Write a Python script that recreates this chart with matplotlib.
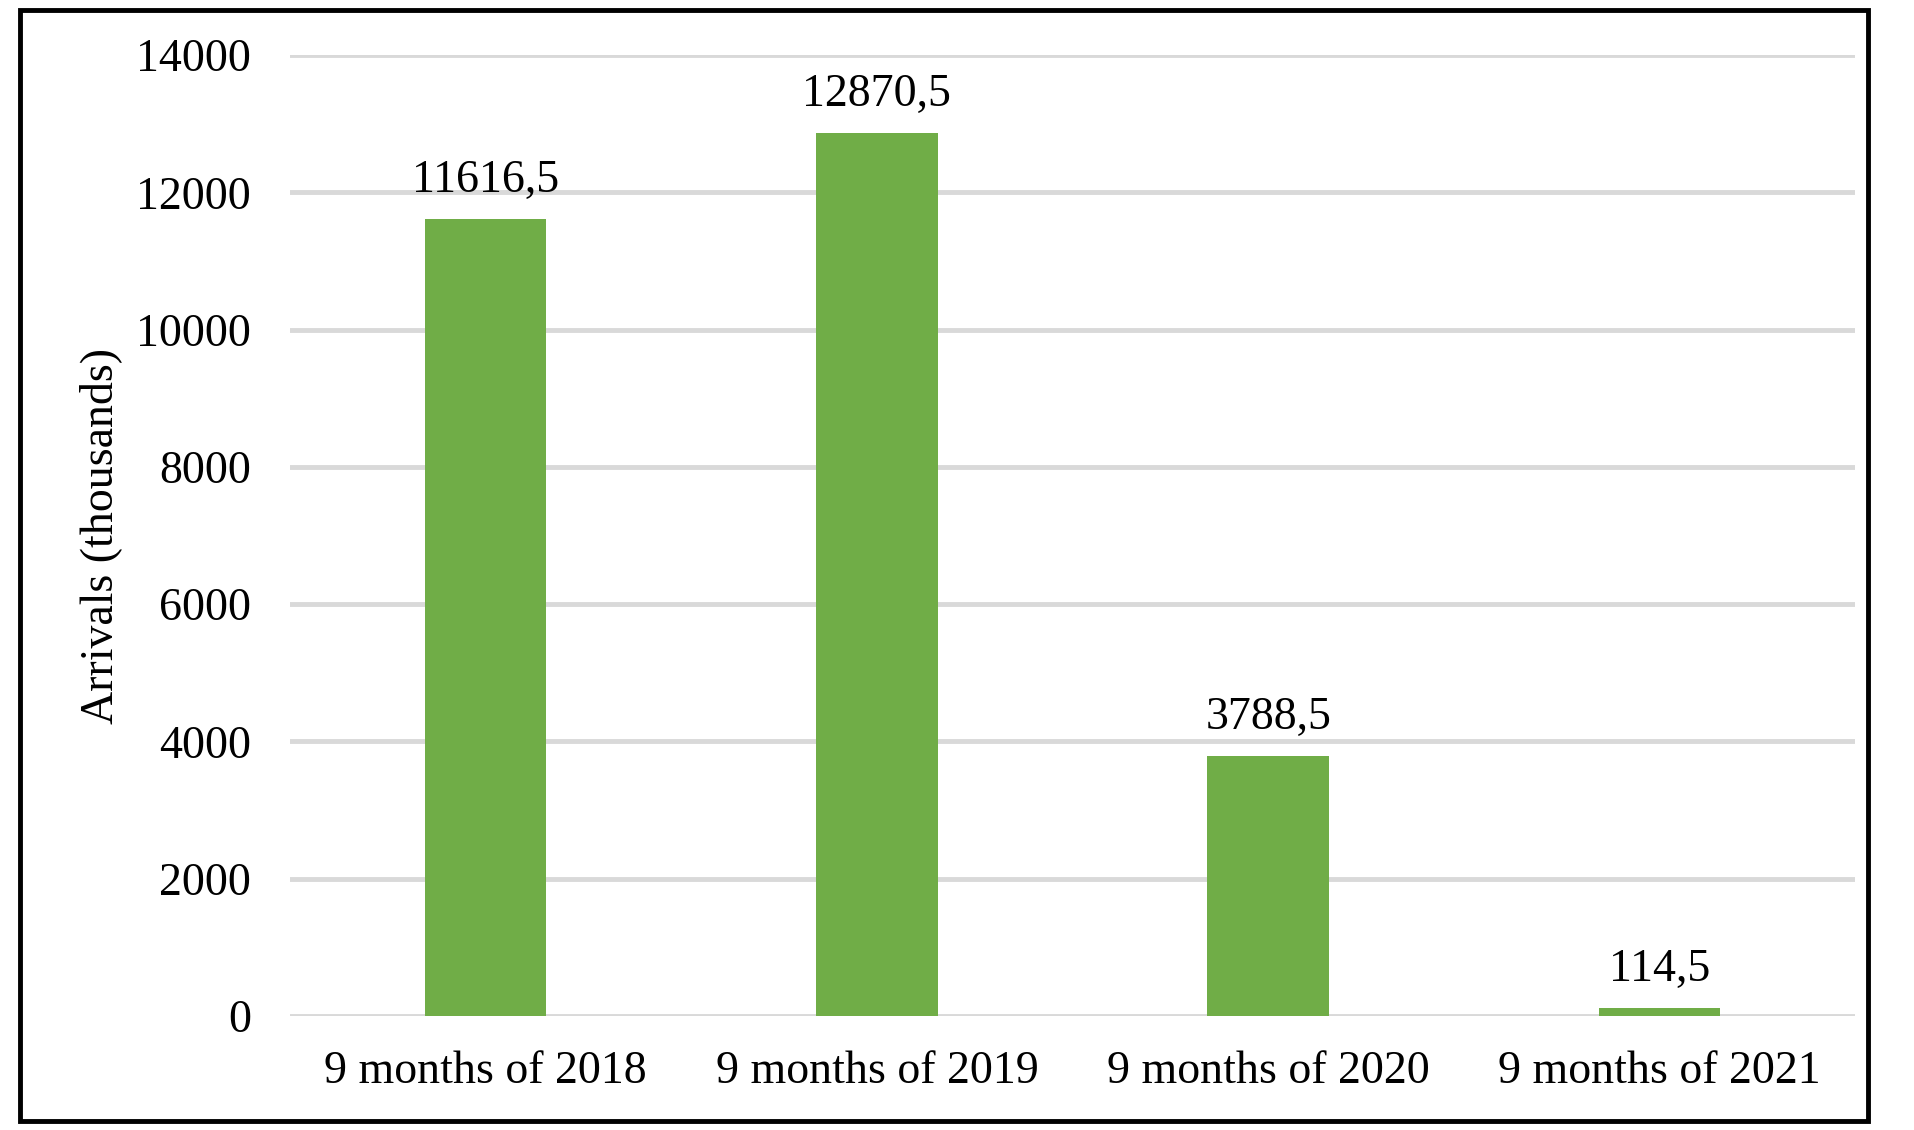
import matplotlib
matplotlib.use('Agg')
import matplotlib.pyplot as plt
from matplotlib.patches import Rectangle

# Data
periods = ['9 months of 2018', '9 months of 2019', '9 months of 2020', '9 months of 2021']
arrivals = [11616.5, 12870.5, 3788.5, 114.5]
yticks = [0, 2000, 4000, 6000, 8000, 10000, 12000, 14000]

plt.rcParams['font.family'] = ['Liberation Serif', 'DejaVu Serif']

fig = plt.figure(figsize=(19.14, 11.30), dpi=100)
ax = fig.add_axes([0.1515, 0.1009, 0.8177, 0.8504])

x = range(len(periods))
bars = ax.bar(x, arrivals, width=0.31, color='#70AD47', zorder=3)

for b, v in zip(bars, arrivals):
    ax.annotate(f'{v:.1f}'.replace('.', ','), (b.get_x() + b.get_width() / 2, v),
                xytext=(0, 12), textcoords='offset points',
                ha='center', va='bottom', fontsize=33, color='black')

ax.set_xlim(-0.5, len(periods) - 0.5)
ax.set_ylim(0, 14000)
ax.set_yticks(yticks)
ax.set_yticklabels([str(t) for t in yticks])
ax.set_xticks(list(x))
ax.set_xticklabels(periods)
ax.tick_params(axis='y', length=0, pad=28, labelsize=33)
ax.tick_params(axis='x', length=0, pad=25, labelsize=33)
ax.grid(axis='y', color='#d9d9d9', linewidth=3.5, zorder=0)
for s in ax.spines.values():
    s.set_visible(False)

ax.set_ylabel('Arrivals (thousands)', fontsize=33)
ax.yaxis.set_label_coords(-0.107, 0.5)

# outer frame around the chart
fig.patches.append(Rectangle((0.0105, 0.008), 0.9655, 0.983, transform=fig.transFigure,
                             fill=False, edgecolor='black', linewidth=3.5))

plt.savefig('out.png', dpi=100)
plt.close()
